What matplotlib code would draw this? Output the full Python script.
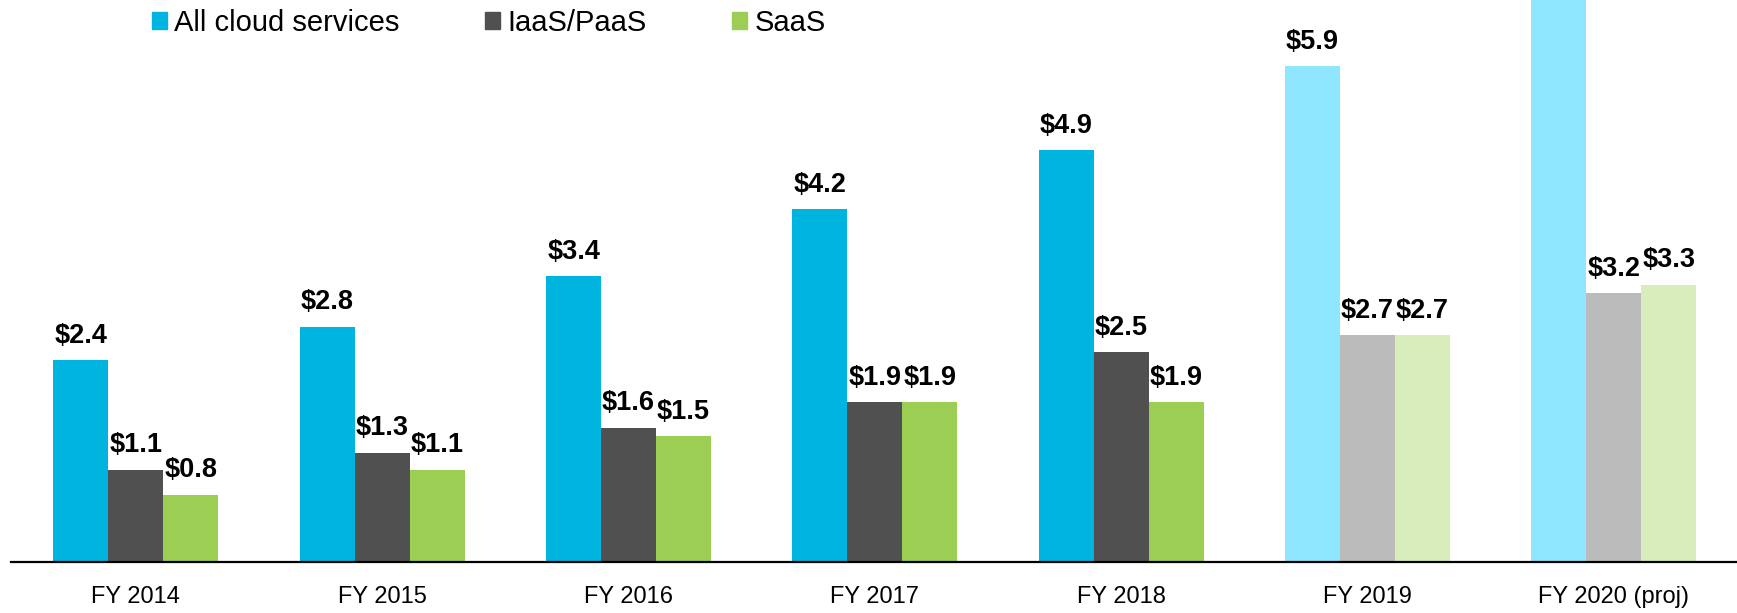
import matplotlib
matplotlib.use("Agg")
import matplotlib.pyplot as plt
from matplotlib.patches import Patch
import numpy as np

plt.rcParams['font.family'] = ['Liberation Sans', 'DejaVu Sans']

years = ['FY 2014', 'FY 2015', 'FY 2016', 'FY 2017', 'FY 2018', 'FY 2019', 'FY 2020 (proj)']
all_cloud = [2.4, 2.8, 3.4, 4.2, 4.9, 5.9, 6.9]   # FY2020 bar runs off the top
iaas_paas = [1.1, 1.3, 1.6, 1.9, 2.5, 2.7, 3.2]
saas = [0.8, 1.1, 1.5, 1.9, 1.9, 2.7, 3.3]
all_lbl = ['$2.4', '$2.8', '$3.4', '$4.2', '$4.9', '$5.9', '']
iaas_lbl = ['$1.1', '$1.3', '$1.6', '$1.9', '$2.5', '$2.7', '$3.2']
saas_lbl = ['$0.8', '$1.1', '$1.5', '$1.9', '$1.9', '$2.7', '$3.3']
series_names = ['All cloud services', 'IaaS/PaaS', 'SaaS']

dark_cols = ['#00b4e0', '#505050', '#9bce52']
light_cols = ['#8ee6ff', '#bbbbbb', '#d8ecbc']
n_actual = 5  # first five years are actuals, rest drawn light

fig = plt.figure(figsize=(17.37, 6.13), dpi=100)
ax = fig.add_axes([11 / 1737, 51 / 613, 1 - 11 / 1737, 1 - 51 / 613])

x = np.arange(len(years))
w = 0.2233
for i, (vals, lbls) in enumerate(zip([all_cloud, iaas_paas, saas], [all_lbl, iaas_lbl, saas_lbl])):
    cols = [dark_cols[i] if k < n_actual else light_cols[i] for k in range(len(years))]
    bars = ax.bar(x + (i - 1) * w, vals, w, color=cols, linewidth=0)
    for b, lab in zip(bars, lbls):
        if not lab:
            continue
        ax.annotate(lab, (b.get_x() + b.get_width() / 2, b.get_height()),
                    xytext=(0, 12.5), textcoords='offset points',
                    ha='center', va='baseline', fontsize=19.5, fontweight='bold')

ax.set_xlim(-0.507, 6.50)
ax.set_ylim(0, 6.69)
ax.set_xticks(x)
ax.set_xticklabels(years, fontsize=17)
ax.tick_params(axis='x', length=0, pad=17.5)
ax.set_yticks([])
for s in ['left', 'right', 'top']:
    ax.spines[s].set_visible(False)
ax.spines['bottom'].set_linewidth(1.6)
ax.spines['bottom'].set_color('black')

handles = [Patch(color=c) for c in dark_cols]
fig.legend(handles, series_names, loc='upper left', bbox_to_anchor=(152 / 1737, 0.986),
           ncol=3, frameon=False, fontsize=21, handlelength=0.5, handleheight=0.5,
           handletextpad=0.27, columnspacing=2.93, borderpad=0, borderaxespad=0)

fig.savefig('out.png', dpi=100)
